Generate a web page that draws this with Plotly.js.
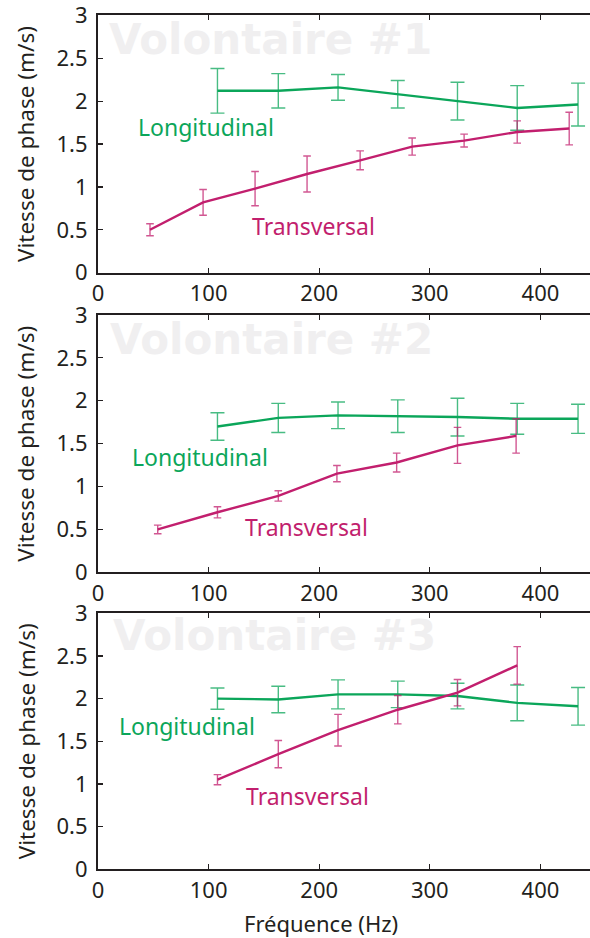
<!DOCTYPE html>
<html>
<head>
<meta charset="utf-8">
<script src="https://cdn.plot.ly/plotly-3.0.1.min.js"></script>
<style>html,body{margin:0;padding:0;background:#fff;}#chart{width:590px;height:938px;}</style>
</head>
<body>
<div id="chart"></div>
<script>
// ---- Data ----
var panelTitles = ["Volontaire #1", "Volontaire #2", "Volontaire #3"];
var seriesNames = ["Longitudinal", "Transversal"];

// Volontaire #1
var f1L = [108, 163, 217, 271, 325, 379, 434];
var v1L = [2.12, 2.12, 2.16, 2.08, 2.00, 1.92, 1.96];
var e1L = [0.26, 0.20, 0.15, 0.16, 0.22, 0.26, 0.25];
var f1T = [47, 95, 142, 189, 237, 284, 331, 379, 426];
var v1T = [0.50, 0.82, 0.98, 1.15, 1.31, 1.47, 1.54, 1.64, 1.68];
var e1T = [0.07, 0.15, 0.20, 0.21, 0.11, 0.10, 0.075, 0.13, 0.19];

// Volontaire #2
var f2L = [108, 163, 217, 271, 325, 379, 434];
var v2L = [1.70, 1.80, 1.83, 1.82, 1.81, 1.79, 1.79];
var e2L = [0.16, 0.17, 0.155, 0.19, 0.22, 0.18, 0.17];
var f2T = [54, 108, 163, 216, 270, 325, 378];
var v2T = [0.50, 0.70, 0.89, 1.15, 1.28, 1.48, 1.59];
var e2T = [0.05, 0.065, 0.06, 0.095, 0.11, 0.21, 0.20];

// Volontaire #3
var f3L = [108, 163, 217, 271, 325, 379, 434];
var v3L = [2.00, 1.99, 2.05, 2.05, 2.03, 1.95, 1.91];
var e3L = [0.125, 0.155, 0.17, 0.155, 0.15, 0.21, 0.22];
var f3T = [108, 163, 217, 271, 325, 379];
var v3T = [1.05, 1.35, 1.63, 1.87, 2.07, 2.39];
var e3T = [0.06, 0.16, 0.185, 0.166, 0.155, 0.22];

var xTicks = [0, 100, 200, 300, 400];
var yTicks = [0, 0.5, 1, 1.5, 2, 2.5, 3];
var yTickText = ["0", "0.5", "1", "1.5", "2", "2.5", "3"];
var xTitle = "Fréquence (Hz)";
var yTitle = "Vitesse de phase (m/s)";

// ---- Styling ----
var GREEN = "#0ba65a";
var MAG = "#c21f6e";
var GREEN_EB = "rgba(11,166,90,0.75)";
var MAG_EB = "rgba(194,31,110,0.75)";
var AX = "#231f20";
var FONT = "Noto Sans, sans-serif";

var panels = [
  {fL: f1L, vL: v1L, eL: e1L, fT: f1T, vT: v1T, eT: e1T},
  {fL: f2L, vL: v2L, eL: e2L, fT: f2T, vT: v2T, eT: e2T},
  {fL: f3L, vL: v3L, eL: e3L, fT: f3T, vT: v3T, eT: e3T}
];

var W = 590, H = 938;
var plotTop = [15.3, 315, 613.3], plotBot = [272.7, 572.3, 869.3];
var labelPos = [
  {L: [34, 1.70], T: [137, 0.54], W: [8, 2.72]},
  {L: [29, 1.35], T: [131, 0.53], W: [9, 2.72]},
  {L: [17, 1.68], T: [132, 0.86], W: [12, 2.74]}
];

var traces = [];
var layout = {
  width: W, height: H,
  margin: {l: 0, r: 0, t: 0, b: 0},
  paper_bgcolor: "#ffffff", plot_bgcolor: "#ffffff",
  showlegend: false,
  font: {family: FONT, color: AX, size: 22},
  annotations: []
};

panels.forEach(function (p, i) {
  var xa = i === 0 ? "x" : "x" + (i + 1);
  var ya = i === 0 ? "y" : "y" + (i + 1);
  traces.push({
    x: p.fL, y: p.vL, xaxis: xa, yaxis: ya, type: "scatter", mode: "lines",
    name: seriesNames[0], line: {color: GREEN, width: 2.4},
    error_y: {type: "data", array: p.eL, visible: true, color: GREEN_EB, thickness: 1.4, width: 7}
  });
  traces.push({
    x: p.fT, y: p.vT, xaxis: xa, yaxis: ya, type: "scatter", mode: "lines",
    name: seriesNames[1], line: {color: MAG, width: 2.4},
    error_y: {type: "data", array: p.eT, visible: true, color: MAG_EB, thickness: 1.4, width: 3.8}
  });
  var sfx = i === 0 ? "" : String(i + 1);
  layout["xaxis" + sfx] = {
    domain: [98 / W, 1], anchor: ya, range: [0, 444.8],
    tickvals: xTicks, ticktext: xTicks.map(String), ticks: "inside", ticklen: 5, tickwidth: 1.2, tickcolor: AX,
    showline: true, linecolor: AX, linewidth: 2, mirror: "ticks", ticklabeloverflow: "allow",
    showgrid: false, zeroline: false, tickfont: {size: 22, color: AX, family: FONT}
  };
  layout["yaxis" + sfx] = {
    domain: [1 - plotBot[i] / H, 1 - plotTop[i] / H], anchor: xa, range: [0, 3],
    tickvals: yTicks, ticktext: yTickText, ticks: "inside", ticklen: 5, tickwidth: 1.2, tickcolor: AX,
    showline: true, linecolor: AX, linewidth: 2, mirror: false, ticklabeloverflow: "allow",
    ticklabelstandoff: 4,
    showgrid: false, zeroline: false, tickfont: {size: 22, color: AX, family: FONT}
  };
  var lp = labelPos[i];
  layout.annotations.push({
    xref: xa, yref: ya, x: lp.W[0], y: lp.W[1], xanchor: "left", yanchor: "middle",
    text: panelTitles[i], showarrow: false,
    font: {family: "DejaVu Sans, sans-serif", size: 42, color: "#f0eff0", weight: "bold"}
  });
  layout.annotations.push({
    xref: xa, yref: ya, x: lp.L[0], y: lp.L[1], xanchor: "left", yanchor: "middle",
    text: seriesNames[0], showarrow: false, font: {family: FONT, size: 23, color: GREEN}
  });
  layout.annotations.push({
    xref: xa, yref: ya, x: lp.T[0], y: lp.T[1], xanchor: "left", yanchor: "middle",
    text: seriesNames[1], showarrow: false, font: {family: FONT, size: 23, color: MAG}
  });
  layout.annotations.push({
    xref: "paper", yref: ya + " domain", x: 26 / W, y: 0.5, xanchor: "center", yanchor: "middle",
    text: yTitle, textangle: -90, showarrow: false, font: {family: FONT, size: 22.5, color: AX}
  });
});
layout.annotations.push({
  xref: "paper", yref: "paper", x: 321 / W, y: 1 - 923 / H, xanchor: "center", yanchor: "middle",
  text: xTitle, showarrow: false, font: {family: FONT, size: 22, color: AX}
});

Plotly.newPlot("chart", traces, layout, {staticPlot: true, displayModeBar: false});
</script>
</body>
</html>
